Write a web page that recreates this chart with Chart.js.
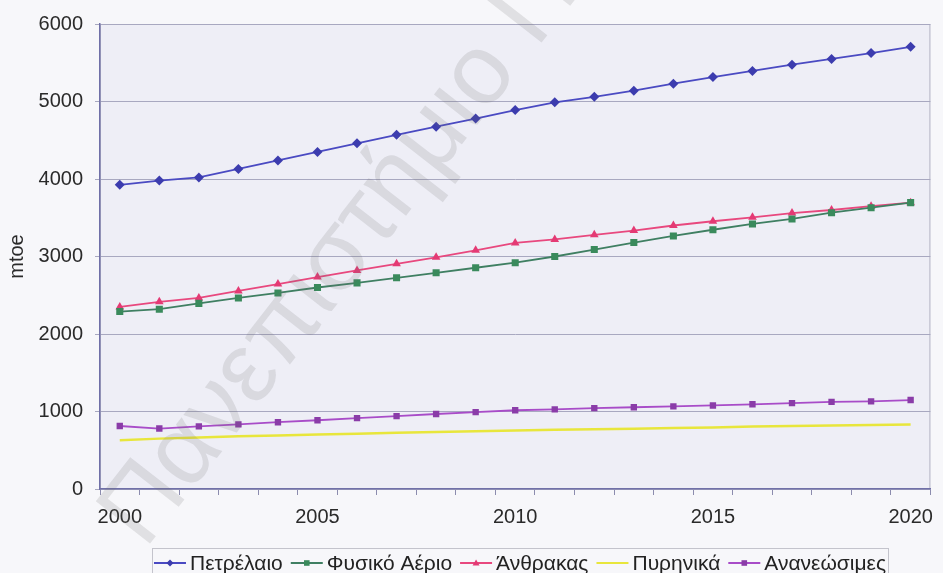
<!DOCTYPE html>
<html>
<head>
<meta charset="utf-8">
<script src="https://cdn.jsdelivr.net/npm/chart.js@4.4.1/dist/chart.umd.min.js"></script>
<style>
  body { margin: 0; background: #f7f7fa; }
  #wrap { width: 943px; height: 573px; }
</style>
</head>
<body>
<div id="wrap"><canvas id="myChart" width="943" height="573"></canvas></div>
<script>
// data (mtoe)
const years = [
  "2000", "2001", "2002", "2003", "2004", "2005", "2006", "2007", "2008", "2009", "2010",
  "2011", "2012", "2013", "2014", "2015", "2016", "2017", "2018", "2019", "2020",
];
const oil = [3925, 3980, 4020, 4130, 4240, 4350, 4460, 4570, 4675, 4780, 4890, 4990, 5060, 5140, 5230, 5315, 5395, 5475, 5550, 5625, 5705];
const gas = [2290, 2320, 2395, 2465, 2530, 2600, 2660, 2725, 2790, 2855, 2920, 3000, 3090, 3180, 3265, 3345, 3420, 3485, 3565, 3630, 3695];
const coal = [2350, 2415, 2465, 2555, 2645, 2735, 2820, 2905, 2990, 3080, 3175, 3220, 3280, 3335, 3400, 3455, 3505, 3560, 3600, 3650, 3695];
const nuclear = [630, 650, 665, 680, 690, 703, 714, 725, 735, 745, 755, 763, 770, 779, 787, 795, 805, 812, 819, 826, 833];
const renewables = [813, 780, 808, 833, 862, 887, 915, 940, 968, 992, 1016, 1027, 1044, 1055, 1067, 1078, 1093, 1108, 1125, 1131, 1148];
const yTicks = [0, 1000, 2000, 3000, 4000, 5000, 6000];

const FONT = '"Liberation Sans", Arial, sans-serif';

// backgrounds, plot frame, legend, watermark
const decor = {
  id: "decor",
  beforeDraw(chart) {
    const c = chart.ctx;
    const a = chart.chartArea;
    c.save();
    c.fillStyle = "#f7f7fa";
    c.fillRect(0, 0, chart.width, chart.height);
    c.fillStyle = "#eeeef6";
    c.fillRect(a.left, a.top, a.right - a.left, a.bottom - a.top);
    c.strokeStyle = "#b4b4c4";
    c.lineWidth = 1;
    c.strokeRect(a.left + 0.5, a.top + 0.5, a.right - a.left - 1, a.bottom - a.top);
    c.restore();
  },
  afterDraw(chart) {
    const c = chart.ctx;
    c.save();
    // legend
    c.font = "21px " + FONT;
    const items = chart.data.datasets.map((ds) => ({
      ds: ds,
      w: c.measureText(ds.label).width,
    }));
    const lineLen = 32, gap = 4, sep = 8;
    let total = 0;
    items.forEach((it) => (total += lineLen + gap + it.w));
    total += sep * (items.length - 1);
    const boxL = 152, boxR = 888, boxT = 548;
    c.fillStyle = "#f7f7fa";
    c.fillRect(boxL, boxT, boxR - boxL, 40);
    c.strokeStyle = "#c4c4cc";
    c.lineWidth = 1;
    c.strokeRect(boxL + 0.5, boxT + 0.5, boxR - boxL, 40);
    let x = (boxL + boxR) / 2 - total / 2;
    const y = 563;
    items.forEach((it) => {
      const ds = it.ds;
      c.strokeStyle = ds.borderColor;
      c.lineWidth = 2;
      c.beginPath();
      c.moveTo(x, y);
      c.lineTo(x + lineLen, y);
      c.stroke();
      drawMark(c, ds, x + lineLen / 2, y, 3.5);
      c.fillStyle = "#222";
      c.textBaseline = "middle";
      c.textAlign = "left";
      c.fillText(ds.label, x + lineLen + gap, y + 1);
      x += lineLen + gap + it.w + sep;
    });
    // watermark
    c.translate(145, 550);
    c.rotate((-52 * Math.PI) / 180);
    c.font = "100px " + FONT;
    c.fillStyle = "rgba(110, 110, 110, 0.17)";
    c.textBaseline = "alphabetic";
    c.fillText("Πανεπιστήμιο Πειραιώς", 0, 0);
    c.restore();
  },
};

function drawMark(c, ds, x, y, r) {
  if (!ds.pointStyle || ds.pointRadius === 0) return;
  c.fillStyle = ds.pointBackgroundColor;
  c.beginPath();
  if (ds.pointStyle === "rectRot") {
    c.moveTo(x, y - r);
    c.lineTo(x + r, y);
    c.lineTo(x, y + r);
    c.lineTo(x - r, y);
  } else if (ds.pointStyle === "triangle") {
    c.moveTo(x, y - r);
    c.lineTo(x + r, y + r * 0.7);
    c.lineTo(x - r, y + r * 0.7);
  } else {
    c.rect(x - r * 0.8, y - r * 0.8, r * 1.6, r * 1.6);
  }
  c.closePath();
  c.fill();
}

const ctx = document.getElementById("myChart").getContext("2d");
const myChart = new Chart(ctx, {
  type: "line",
  data: {
    labels: years,
    datasets: [
      {
        label: "Πετρέλαιο",
        data: oil,
        borderColor: "#4a4ac2",
        backgroundColor: "#4a4ac2",
        pointBackgroundColor: "#3c3cae",
        pointStyle: "rectRot",
        pointRadius: 5,
      },
      {
        label: "Φυσικό Αέριο",
        data: gas,
        borderColor: "#3f7f62",
        backgroundColor: "#3f7f62",
        pointBackgroundColor: "#3a8a5c",
        pointStyle: "rect",
        pointRadius: 5,
      },
      {
        label: "Άνθρακας",
        data: coal,
        borderColor: "#e8487e",
        backgroundColor: "#e8487e",
        pointBackgroundColor: "#e43a74",
        pointStyle: "triangle",
        pointRadius: 5,
      },
      {
        label: "Πυρηνικά",
        data: nuclear,
        borderColor: "#e8e63c",
        backgroundColor: "#e8e63c",
        pointBackgroundColor: "#e8e63c",
        pointStyle: false,
        pointRadius: 0,
        borderWidth: 2.5,
      },
      {
        label: "Ανανεώσιμες",
        data: renewables,
        borderColor: "#a84cc8",
        backgroundColor: "#a84cc8",
        pointBackgroundColor: "#8a3ca8",
        pointStyle: "rect",
        pointRadius: 4.5,
      },
    ],
  },
  options: {
    responsive: false,
    animation: false,
    layout: { padding: { top: 22, right: 5, left: 0, bottom: 30 } },
    elements: {
      line: { borderWidth: 1.8, tension: 0, fill: false },
      point: { borderWidth: 0, hoverRadius: 5 },
    },
    plugins: {
      legend: { display: false },
      tooltip: { enabled: false },
    },
    scales: {
      x: {
        type: "category",
        offset: true,
        afterFit: (scale) => {
          scale.height = 54;
        },
        grid: {
          offset: true,
          drawOnChartArea: false,
          drawTicks: true,
          tickLength: 6,
          color: "#8c8cae",
        },
        border: { color: "#7070a8", width: 1.5 },
        ticks: {
          autoSkip: false,
          maxRotation: 0,
          padding: 10,
          color: "#2a2a2a",
          font: { size: 20, family: FONT },
          callback: function (value, index) {
            return index % 5 === 0 ? years[index] : "";
          },
        },
      },
      y: {
        min: 0,
        max: 6000,
        afterFit: (scale) => {
          scale.width = 100;
        },
        afterBuildTicks: (scale) => {
          scale.ticks = yTicks.map((v) => ({ value: v }));
        },
        grid: {
          color: "#a8a8c0",
          lineWidth: 1,
          tickLength: 5,
        },
        border: { color: "#7070a8", width: 1.5 },
        ticks: {
          padding: 12,
          color: "#2a2a2a",
          font: { size: 20, family: FONT },
          callback: function (value) {
            return String(value);
          },
        },
        title: {
          display: true,
          text: "mtoe",
          color: "#2a2a2a",
          padding: { top: 5, bottom: 0 },
          font: { size: 20, family: FONT },
        },
      },
    },
  },
  plugins: [decor],
});
</script>
</body>
</html>
